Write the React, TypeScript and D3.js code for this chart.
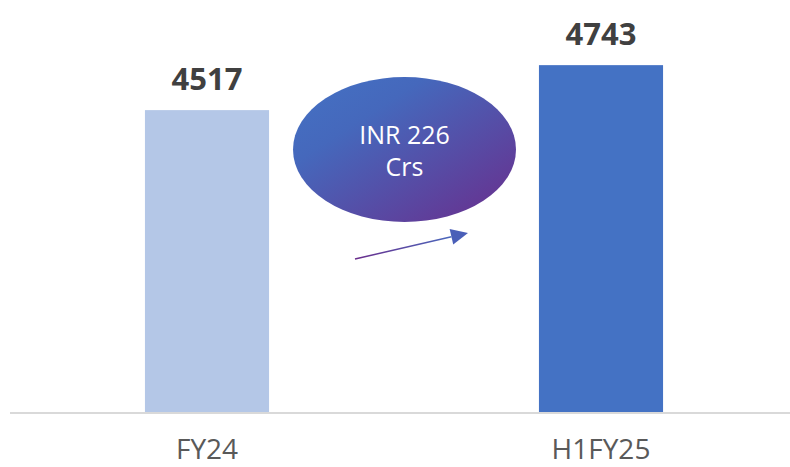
import React, { useEffect, useRef } from 'react'
import * as d3 from 'd3'

const categories = ['FY24', 'H1FY25']
const values = [4517, 4743]
const barColors = ['#b4c7e7', '#4472c4']
const calloutLines = ['INR 226', 'Crs']

const width = 790
const height = 467

function App() {
  const ref = useRef<SVGSVGElement>(null)

  useEffect(() => {
    const svg = d3.select(ref.current)
    svg.selectAll('*').remove()

    const baseline = 412
    const x = d3.scaleBand<string>()
      .domain(categories)
      .range([10, 798])
      .paddingInner(0.685)
      .paddingOuter(0.3425)
    const y = d3.scaleLinear().domain([3000, 5000]).range([baseline, 14])

    const defs = svg.append('defs')
    const grad = defs.append('linearGradient')
      .attr('id', 'ellGrad')
      .attr('x1', '0%').attr('y1', '0%')
      .attr('x2', '100%').attr('y2', '100%')
    grad.append('stop').attr('offset', '0%').attr('stop-color', '#4472c4')
    grad.append('stop').attr('offset', '30%').attr('stop-color', '#4568bc')
    grad.append('stop').attr('offset', '100%').attr('stop-color', '#6a2d8c')

    const arrowGrad = defs.append('linearGradient')
      .attr('id', 'arrGrad')
      .attr('gradientUnits', 'userSpaceOnUse')
      .attr('x1', 355).attr('y1', 259).attr('x2', 468).attr('y2', 233)
    arrowGrad.append('stop').attr('offset', '0%').attr('stop-color', '#6a2d8c')
    arrowGrad.append('stop').attr('offset', '100%').attr('stop-color', '#4472c4')

    // bars
    svg.selectAll('rect.bar')
      .data(values)
      .enter()
      .append('rect')
      .attr('class', 'bar')
      .attr('x', (d, i) => x(categories[i]) as number)
      .attr('y', d => y(d))
      .attr('width', x.bandwidth())
      .attr('height', d => baseline - y(d))
      .attr('fill', (d, i) => barColors[i])

    // axis line
    svg.append('line')
      .attr('x1', 10).attr('x2', width)
      .attr('y1', baseline + 1).attr('y2', baseline + 1)
      .attr('stroke', '#d9d9d9')
      .attr('stroke-width', 2)

    // value labels
    svg.selectAll('text.val')
      .data(values)
      .enter()
      .append('text')
      .attr('class', 'val')
      .attr('x', (d, i) => (x(categories[i]) as number) + x.bandwidth() / 2)
      .attr('y', d => y(d) - 20)
      .attr('text-anchor', 'middle')
      .attr('font-family', 'Open Sans, sans-serif')
      .attr('font-weight', 700)
      .attr('font-size', 31)
      .attr('fill', '#404040')
      .text(d => d)

    // category labels
    svg.selectAll('text.cat')
      .data(categories)
      .enter()
      .append('text')
      .attr('class', 'cat')
      .attr('x', d => (x(d) as number) + x.bandwidth() / 2)
      .attr('y', 459)
      .attr('text-anchor', 'middle')
      .attr('font-family', 'Open Sans, sans-serif')
      .attr('font-size', 28)
      .attr('fill', '#595959')
      .text(d => d)

    // callout ellipse
    const cx = 404.5, cy = 149.5
    svg.append('ellipse')
      .attr('cx', cx).attr('cy', cy)
      .attr('rx', 111.5).attr('ry', 72.5)
      .attr('fill', 'url(#ellGrad)')
    svg.selectAll('text.callout')
      .data(calloutLines)
      .enter()
      .append('text')
      .attr('class', 'callout')
      .attr('x', cx)
      .attr('y', (d, i) => 144 + i * 32)
      .attr('text-anchor', 'middle')
      .attr('font-family', 'Open Sans, sans-serif')
      .attr('font-size', 25)
      .attr('fill', '#ffffff')
      .text(d => d)

    // arrow
    const x0 = 355, y0 = 259, x1 = 468, y1 = 233
    const ang = Math.atan2(y1 - y0, x1 - x0)
    const headLen = 17, headW = 8
    const bx = x1 - headLen * Math.cos(ang), by = y1 - headLen * Math.sin(ang)
    svg.append('line')
      .attr('x1', x0).attr('y1', y0).attr('x2', bx).attr('y2', by)
      .attr('stroke', 'url(#arrGrad)')
      .attr('stroke-width', 1.5)
    svg.append('path')
      .attr('d', d3.line()([
        [x1, y1],
        [bx - headW * Math.sin(ang), by + headW * Math.cos(ang)],
        [bx + headW * Math.sin(ang), by - headW * Math.cos(ang)],
      ]) + 'Z')
      .attr('fill', '#4a5fb8')
  }, [])

  return (
    <svg ref={ref} width={width} height={height}
      style={{ position: 'absolute', left: 0, top: 0, background: '#fff' }} />
  )
}

export default App
